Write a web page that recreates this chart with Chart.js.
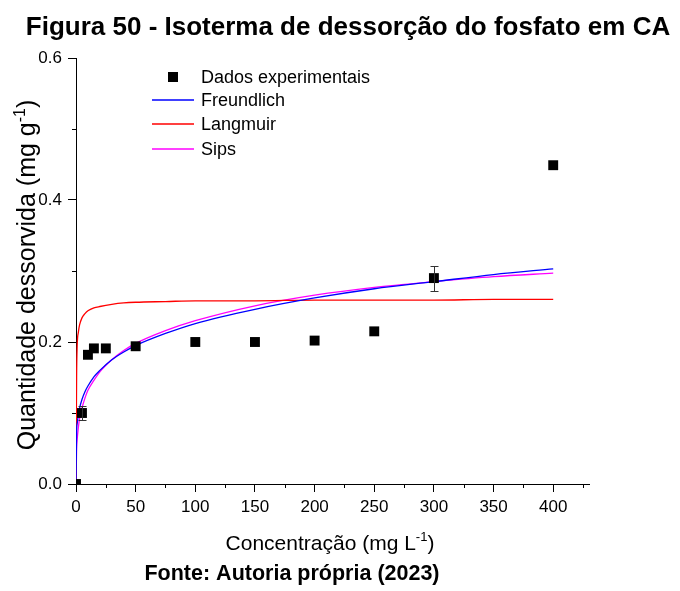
<!DOCTYPE html>
<html lang="pt">
<head>
<meta charset="utf-8">
<title>Isoterma de dessorção do fosfato em CA</title>
<script src="https://cdn.jsdelivr.net/npm/chart.js@4.4.1/dist/chart.umd.min.js"></script>
<style>
    html, body { margin: 0; padding: 0; background: #fff; }
    #wrap { width: 680px; height: 591px; }
</style>
</head>
<body>
<div id="wrap"><canvas id="chart" width="680" height="591"></canvas></div>
<script>
// pontos experimentais
const concentracao = [0, 5, 10, 15, 25, 50, 100, 150, 200, 250, 300, 400];
const quantidade = [0.0, 0.100, 0.182, 0.191, 0.191, 0.194, 0.200, 0.200, 0.202, 0.215, 0.290, 0.449];
const erro = [0, 0.0105, 0, 0, 0, 0, 0, 0, 0, 0, 0.0175, 0];

// curvas de ajuste
const curvaX = [0, 0.5, 1, 2, 3, 5, 7.5, 10, 15, 20, 30, 40, 50, 75, 100, 150, 200, 250, 300, 350, 400];
const freundlich = [0, 0.073, 0.085, 0.098, 0.107, 0.119, 0.130, 0.138, 0.151, 0.160, 0.175, 0.186, 0.195, 0.212, 0.226, 0.246, 0.262, 0.275, 0.285, 0.295, 0.303];
const langmuir = [0, 0.150, 0.195, 0.214, 0.224, 0.234, 0.240, 0.244, 0.248, 0.250, 0.253, 0.255, 0.256, 0.257, 0.258, 0.258, 0.259, 0.259, 0.259, 0.260, 0.260];
const sips = [0, 0.050, 0.063, 0.080, 0.092, 0.107, 0.121, 0.132, 0.146, 0.158, 0.175, 0.188, 0.198, 0.216, 0.230, 0.251, 0.266, 0.277, 0.285, 0.292, 0.297];

const xTicks = [0, 50, 100, 150, 200, 250, 300, 350, 400];
const xMinor = [25, 75, 125, 175, 225, 275, 325, 375, 425];
const yTicks = [0, 0.2, 0.4, 0.6];
const yMinor = [0.1, 0.3, 0.5];

const FONT = "'Liberation Sans', Arial, sans-serif";

function pts(xs, ys) {
    return xs.map((x, i) => ({ x: x, y: ys[i] }));
}

function curve(label, values, color) {
    return {
        label: label,
        data: pts(curvaX, values),
        showLine: true,
        borderColor: color,
        borderWidth: 1.3,
        pointRadius: 0,
        cubicInterpolationMode: 'monotone',
        fill: false
    };
}

// texto com sobrescrito: partes [texto, sobrescrito?]
function drawParts(ctx, parts, cx, y, size) {
    const supSize = Math.round(size * 0.62);
    let total = 0;
    parts.forEach(p => {
        ctx.font = (p[1] ? supSize : size) + 'px ' + FONT;
        total += ctx.measureText(p[0]).width;
    });
    let x = cx - total / 2;
    ctx.textAlign = 'left';
    parts.forEach(p => {
        ctx.font = (p[1] ? supSize : size) + 'px ' + FONT;
        ctx.fillText(p[0], x, p[1] ? y - size * 0.42 : y);
        x += ctx.measureText(p[0]).width;
    });
}

const minorTicks = {
    id: 'minorTicks',
    afterDraw(chart) {
        const { ctx, scales: { x, y } } = chart;
        ctx.save();
        ctx.strokeStyle = '#000';
        ctx.lineWidth = 1;
        ctx.beginPath();
        xMinor.forEach(v => {
            const px = Math.round(x.getPixelForValue(v)) + 0.5;
            ctx.moveTo(px, y.bottom);
            ctx.lineTo(px, y.bottom + 4);
        });
        yMinor.forEach(v => {
            const py = Math.round(y.getPixelForValue(v)) + 0.5;
            ctx.moveTo(x.left, py);
            ctx.lineTo(x.left - 4, py);
        });
        ctx.stroke();
        ctx.restore();
    }
};

const errorBars = {
    id: 'errorBars',
    afterDatasetsDraw(chart) {
        const { ctx, scales: { x, y } } = chart;
        ctx.save();
        ctx.strokeStyle = '#333';
        ctx.lineWidth = 1;
        concentracao.forEach((c, i) => {
            if (!erro[i]) return;
            const px = Math.round(x.getPixelForValue(c)) + 0.5;
            const top = Math.round(y.getPixelForValue(quantidade[i] + erro[i])) + 0.5;
            const bot = Math.round(y.getPixelForValue(quantidade[i] - erro[i])) + 0.5;
            ctx.beginPath();
            ctx.moveTo(px, top); ctx.lineTo(px, bot);
            ctx.moveTo(px - 4, top); ctx.lineTo(px + 4, top);
            ctx.moveTo(px - 4, bot); ctx.lineTo(px + 4, bot);
            ctx.stroke();
        });
        ctx.restore();
    }
};

const texts = {
    id: 'texts',
    afterDraw(chart) {
        const ctx = chart.ctx;
        ctx.save();
        ctx.fillStyle = '#000';
        ctx.textBaseline = 'alphabetic';

        ctx.font = 'bold 26px ' + FONT;
        ctx.textAlign = 'center';
        ctx.fillText('Figura 50 - Isoterma de dessorção do fosfato em CA', 348, 35);

        drawParts(ctx, [['Concentração (mg L', false], ['-1', true], [')', false]], 330, 550, 21);

        ctx.font = 'bold 21.5px ' + FONT;
        ctx.textAlign = 'center';
        ctx.fillText('Fonte: Autoria própria (2023)', 292, 580);

        ctx.save();
        ctx.translate(35, 275);
        ctx.rotate(-Math.PI / 2);
        drawParts(ctx, [['Quantidade dessorvida (mg g', false], ['-1', true], [')', false]], 0, 0, 25);
        ctx.restore();

        // legenda
        const rows = [77, 100, 124, 149];
        ctx.font = '18px ' + FONT;
        ctx.textAlign = 'left';
        ctx.textBaseline = 'middle';
        chart.data.datasets.forEach((ds, i) => {
            const yy = rows[i];
            if (i === 0) {
                ctx.fillStyle = '#000';
                ctx.fillRect(168, yy - 5, 10, 10);
            } else {
                ctx.strokeStyle = ds.borderColor;
                ctx.lineWidth = 1.3;
                ctx.beginPath();
                ctx.moveTo(152, yy);
                ctx.lineTo(194, yy);
                ctx.stroke();
            }
            ctx.fillStyle = '#000';
            ctx.fillText(ds.label, 201, yy + 1);
        });
        ctx.restore();
    }
};

new Chart(document.getElementById('chart'), {
    type: 'scatter',
    data: {
        datasets: [
            {
                label: 'Dados experimentais',
                data: pts(concentracao, quantidade),
                pointStyle: 'rect',
                pointRadius: 7,
                pointHoverRadius: 7,
                backgroundColor: '#000',
                borderColor: '#000',
                borderWidth: 0,
                clip: 0
            },
            curve('Freundlich', freundlich, '#0000ff'),
            curve('Langmuir', langmuir, '#ff0000'),
            curve('Sips', sips, '#ff00ff')
        ]
    },
    options: {
        responsive: false,
        animation: false,
        layout: { padding: { top: 58, right: 91, left: 0, bottom: 0 } },
        plugins: {
            legend: { display: false },
            tooltip: { enabled: false }
        },
        scales: {
            x: {
                min: 0,
                max: 430,
                afterBuildTicks: scale => { scale.ticks = xTicks.map(v => ({ value: v })); },
                afterFit: scale => { scale.height = 107; },
                grid: { drawOnChartArea: false, tickLength: 8, color: '#000', tickColor: '#000' },
                border: { color: '#000', width: 1 },
                ticks: {
                    color: '#000',
                    padding: 5,
                    maxRotation: 0,
                    font: { family: FONT, size: 17 },
                    callback: v => String(v)
                }
            },
            y: {
                min: 0,
                max: 0.6,
                afterBuildTicks: scale => { scale.ticks = yTicks.map(v => ({ value: v })); },
                afterFit: scale => { scale.width = 76; },
                grid: { drawOnChartArea: false, tickLength: 8, color: '#000', tickColor: '#000' },
                border: { color: '#000', width: 1 },
                ticks: {
                    color: '#000',
                    padding: 6,
                    font: { family: FONT, size: 17 },
                    callback: v => v.toFixed(1)
                }
            }
        }
    },
    plugins: [minorTicks, errorBars, texts]
});
</script>
</body>
</html>
